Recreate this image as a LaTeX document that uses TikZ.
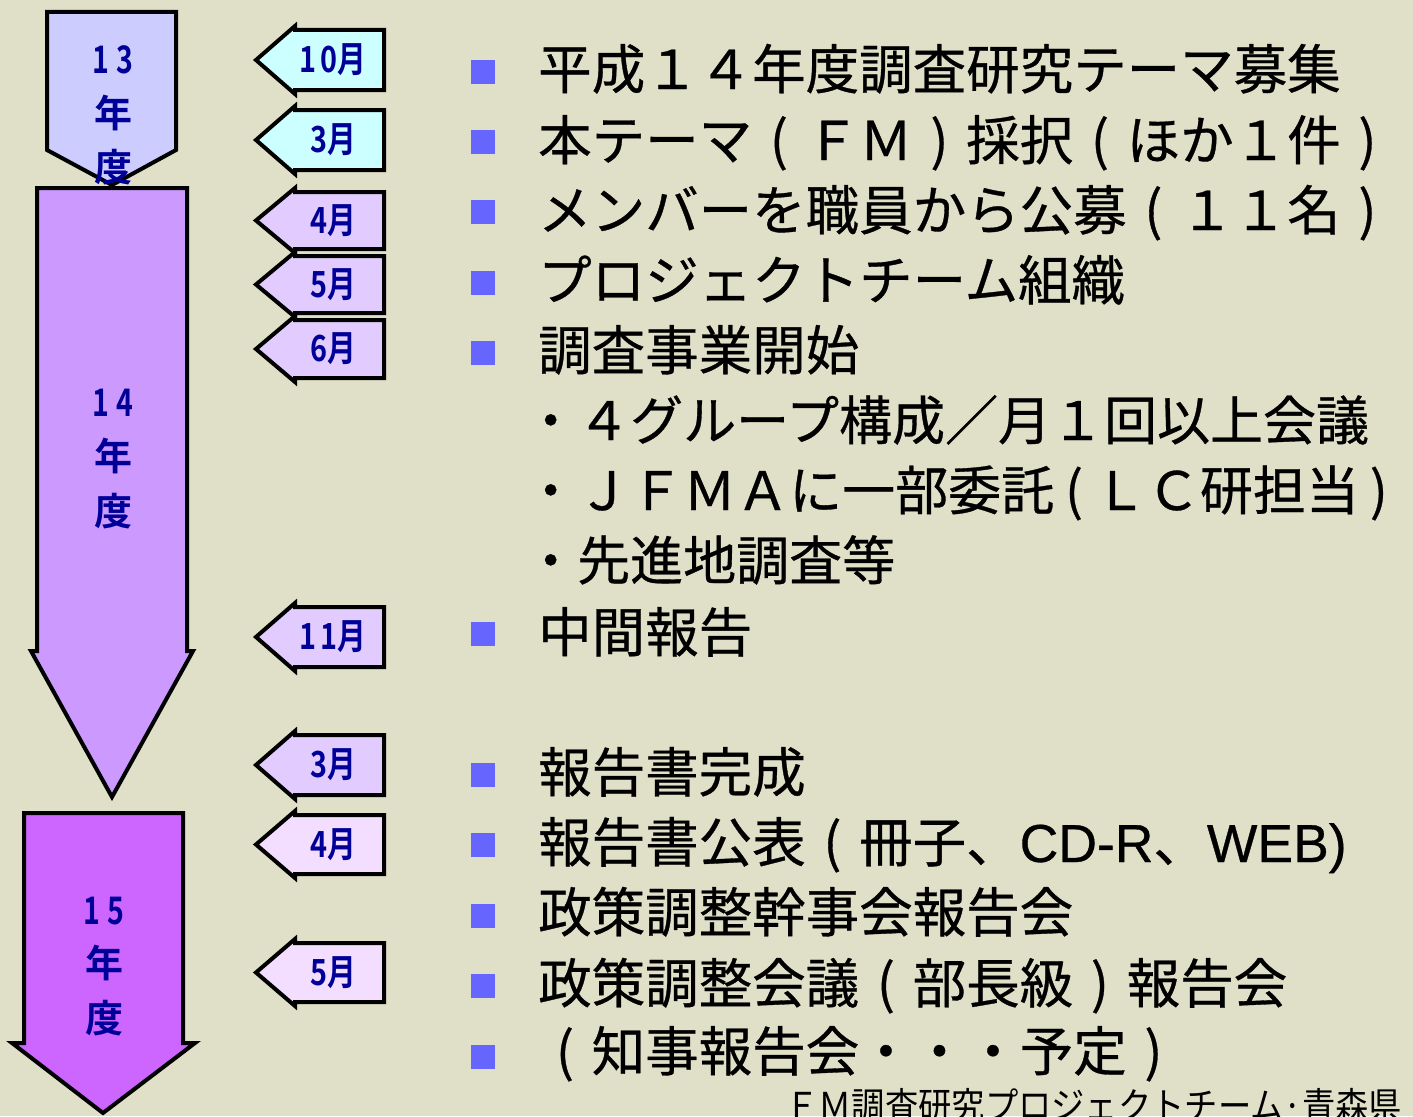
\documentclass[tikz,border=0pt]{standalone}
\usepackage{fontspec}
\usepackage{graphicx}
\setmainfont{Noto Sans CJK JP}[BoldFont={Noto Sans CJK JP Bold}]
\newfontfamily\itemfont{Noto Sans CJK JP}[FakeBold=0.6]
\newfontfamily\latinfont{Liberation Sans}[FakeBold=0.6]
\definecolor{bgc}{RGB}{224,224,200}
\definecolor{yrA}{HTML}{CCCCFF}
\definecolor{yrB}{HTML}{CC99FF}
\definecolor{yrC}{HTML}{CC66FF}
\definecolor{mcyan}{HTML}{CCFFFF}
\definecolor{mpur}{RGB}{226,204,255}
\definecolor{mpale}{RGB}{243,222,255}
\definecolor{lblue}{HTML}{000099}
\definecolor{bulletc}{HTML}{6666FF}
\newcommand\lp[1][1em]{\makebox[#1][c]{(}}
\newcommand\rp[1][1em]{\makebox[#1][c]{)}}
\newcommand\mtag[5]{%
  \draw[outl,fill=#4] (384,#2) -- (295,#2) -- (295,#2-4) -- (256,{(#2+#3)/2}) -- (295,#3+4) -- (295,#3) -- (384,#3) -- cycle;
  \node[mlbl] (#1) at (333,{(#2+#3)/2}) {\scalebox{0.8}[1]{#5}};}
\begin{document}
\begin{tikzpicture}[x=1pt,y=-1pt,
  outl/.style={draw=black,line width=4pt,line join=miter},
  yrlbl/.style={text=lblue,font=\bfseries\fontsize{38}{40}\selectfont,inner sep=0},
  mlbl/.style={text=lblue,font=\bfseries\fontsize{36}{40}\selectfont,inner sep=0},
  itm/.style={anchor=base west,inner sep=0,font=\itemfont\fontsize{53.5}{60}\selectfont},
  subitm/.style={anchor=base west,inner sep=0,font=\itemfont\fontsize{53}{60}\selectfont},
  sq/.style={fill=bulletc,minimum size=24pt,inner sep=0}]
\fill[bgc] (0,0) rectangle (1413,1116);
\useasboundingbox (0,0) rectangle (1413,1116);
% year arrows
\draw[outl,fill=yrA] (47,12) -- (176,12) -- (176,150) -- (112,185) -- (47,150) -- cycle;
\node[yrlbl] (y13a) at (113,60) {\scalebox{0.75}[1]{1\hspace{10pt}3}};
\node[yrlbl] (y13b) at (113,113) {年};
\node[yrlbl] (y13c) at (113,167) {度};
\draw[outl,fill=yrB] (37,188) -- (187,188) -- (187,651) -- (193,651) -- (112,797) -- (31,651) -- (37,651) -- cycle;
\node[yrlbl] (y14a) at (113,403) {\scalebox{0.75}[1]{1\hspace{10pt}4}};
\node[yrlbl] (y14b) at (113,456) {年};
\node[yrlbl] (y14c) at (113,511) {度};
\draw[outl,fill=yrC] (24,813) -- (183,813) -- (183,1043) -- (195,1043) -- (103,1113) -- (12,1043) -- (24,1043) -- cycle;
\node[yrlbl] (y15a) at (104,911) {\scalebox{0.75}[1]{1\hspace{10pt}5}};
\node[yrlbl] (y15b) at (104,963) {年};
\node[yrlbl] (y15c) at (104,1018) {度};
% month tags
\mtag{m1}{30}{90}{mcyan}{1\kern5pt 0月}
\mtag{m2}{110}{170}{mcyan}{3月}
\mtag{m3}{192}{249}{mpur}{4月}
\mtag{m4}{256}{313}{mpur}{5月}
\mtag{m5}{320}{378}{mpur}{6月}
\mtag{m6}{607}{667}{mpur}{1\kern5pt 1月}
\mtag{m7}{735}{795}{mpur}{3月}
\mtag{m8}{815}{874}{mpale}{4月}
\mtag{m9}{943}{1002}{mpale}{5月}
% bullets
\node[sq] (b1) at (483,72) {};
\node[sq] (b2) at (483,142) {};
\node[sq] (b3) at (483,212) {};
\node[sq] (b4) at (483,283) {};
\node[sq] (b5) at (483,353) {};
\node[sq] (b6) at (483,634) {};
\node[sq] (b7) at (483,775) {};
\node[sq] (b8) at (483,845) {};
\node[sq] (b9) at (483,916) {};
\node[sq] (b10) at (483,986) {};
\node[sq] (b11) at (483,1057) {};
% items
\node[itm] (t1) at (538,89) {平成１４年度調査研究テーマ募集};
\node[itm] (t2) at (538,160) {本テーマ\lp ＦＭ\rp 採択\lp ほか１件\rp};
\node[itm] (t3) at (538,230) {メンバーを職員から公募\lp １１名\rp};
\node[itm] (t4) at (538,300) {プロジェクトチーム組織};
\node[itm] (t5) at (538,370) {調査事業開始};
\node[subitm] (s1) at (524,440) {・４グループ構成／月１回以上会議};
\node[subitm] (s2) at (524,510) {・ＪＦＭＡに一部委託\lp[0.75em]ＬＣ研担当\rp[0.75em]};
\node[subitm] (s3) at (524,580) {・先進地調査等};
\node[itm] (t6) at (538,652) {中間報告};
\node[itm] (t7) at (538,792) {報告書完成};
\node[itm] (t8) at (538,862) {報告書公表\lp 冊子、{\latinfont CD-R}、{\latinfont WEB)}};
\node[itm] (t9) at (538,932) {政策調整幹事会報告会};
\node[itm] (t10) at (538,1003) {政策調整会議\lp 部長級\rp 報告会};
\node[itm] (t11) at (538,1071) {\lp 知事報告会・・・予定\rp};
\begin{scope}
\clip (0,0) rectangle (1413,1116);
\node[anchor=base west,inner sep=0,font=\fontsize{37}{40}\selectfont] (foot) at (785,1119) {\scalebox{0.9}[1]{ＦＭ調査研究プロジェクトチーム·青森県}};
\end{scope}
\end{tikzpicture}
\end{document}
